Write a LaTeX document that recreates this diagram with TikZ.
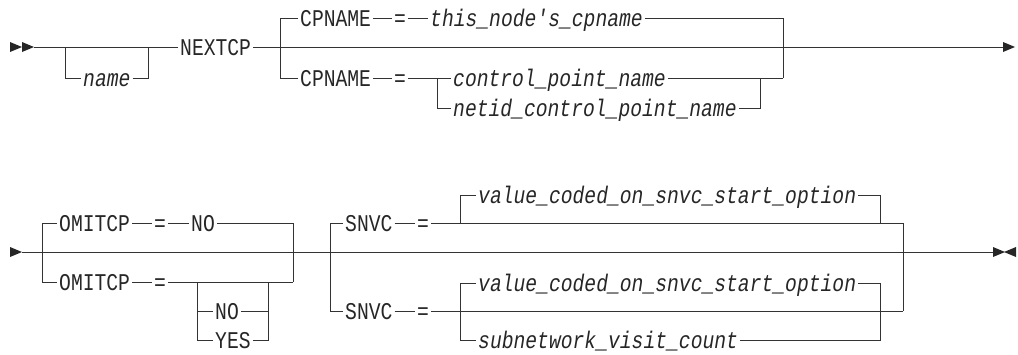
\documentclass[tikz,border=0pt]{standalone}
\usepackage{fontspec}
\usepackage{tikz}
\usetikzlibrary{positioning, arrows.meta}
\newfontfamily\railfont[FakeStretch=0.82, Ligatures=TeXOff]{Liberation Mono}

\begin{document}
\begin{tikzpicture}[
      x=1pt, y=-1pt,
      rail/.style={line width=1pt, draw=black!80},
      tip/.style={fill=black!85},
      kw/.style={font=\fontsize{24}{26}\railfont, text=black!85, inner sep=0pt,
          inner xsep=2pt, text height=17pt, text depth=0pt, anchor=west},
      var/.style={kw, font=\fontsize{24}{26}\railfont\itshape},
    ]
    \useasboundingbox (0,0) rectangle (1018,354);

    % Start and end marks
    \foreach \x/\y in {10/47, 22/47, 1003/47, 10/252, 993/252} {
        \fill[tip] (\x,\y-5) -- (\x+12,\y) -- (\x,\y+5) -- cycle;
      }
    \fill[tip] (1016,247) -- (1004,252) -- (1016,257) -- cycle;

    % ---- First line ----
    \node[kw] (nextcp) at (178,47) {NEXTCP};
    \node[var] (name) at (81,78) {name};
    \node[kw] (cpA) at (298,18) {CPNAME};
    \node[kw] (eqA) at (392,18) {=};
    \node[var] (self) at (428,18) {this\_node's\_cpname};
    \node[kw] (cpB) at (298,78) {CPNAME};
    \node[kw] (eqB) at (392,78) {=};
    \node[var] (cpn) at (451,78) {control\_point\_name};
    \node[var] (netcpn) at (451,108) {netid\_control\_point\_name};

    \coordinate (a0) at (34,47);
    \coordinate (aE) at (1003,47);
    \coordinate (n1) at (65,47);   \coordinate (n1b) at (65,78);
    \coordinate (n2) at (148,47);  \coordinate (n2b) at (148,78);
    \coordinate (c1t) at (280,18); \coordinate (c1b) at (280,78);
    \coordinate (c2t) at (783,18); \coordinate (c2b) at (783,78);
    \coordinate (s1) at (437,78);  \coordinate (s1b) at (437,108);
    \coordinate (j1) at (760,78);  \coordinate (j1b) at (760,108);

    % Optional name
    \draw[rail] (a0) -- (nextcp.west);
    \draw[rail] (n1) -- (n1b) -- (name.west);
    \draw[rail] (name.east) -- (n2b) -- (n2);
    \draw[rail] (nextcp.east) -- (aE);

    % CPNAME choices
    \draw[rail] (c1b) -- (c1t) -- (cpA.west);
    \draw[rail] (c1b) -- (cpB.west);
    \draw[rail] (cpA.east) -- (eqA.west);
    \draw[rail] (eqA.east) -- (self.west);
    \draw[rail] (self.east) -- (c2t) -- (c2b);
    \draw[rail] (cpB.east) -- (eqB.west);
    \draw[rail] (eqB.east) -- (cpn.west);
    \draw[rail] (s1) -- (s1b) -- (netcpn.west);
    \draw[rail] (netcpn.east) -- (j1b) -- (j1);
    \draw[rail] (cpn.east) -- (c2b);

    % ---- Second line ----
    \node[kw] (omitA) at (57,223) {OMITCP};
    \node[kw] (eqC) at (152,223) {=};
    \node[kw] (noA) at (189,223) {NO};
    \node[kw] (omitB) at (57,282) {OMITCP};
    \node[kw] (eqD) at (152,282) {=};
    \node[kw] (noB) at (213,311) {NO};
    \node[kw] (yes) at (213,340) {YES};
    \node[kw] (snvcA) at (343,223) {SNVC};
    \node[kw] (eqE) at (415,223) {=};
    \node[var] (defA) at (476,195) {value\_coded\_on\_snvc\_start\_option};
    \node[kw] (snvcB) at (343,311) {SNVC};
    \node[kw] (eqF) at (415,311) {=};
    \node[var] (defB) at (476,283) {value\_coded\_on\_snvc\_start\_option};
    \node[var] (visit) at (476,340) {subnetwork\_visit\_count};

    \coordinate (b0) at (22,252);
    \coordinate (bE) at (993,252);
    \coordinate (o1t) at (42,223);  \coordinate (o1b) at (42,282);
    \coordinate (o2t) at (293,223); \coordinate (o2b) at (293,282);
    \coordinate (t1) at (197,282);  \coordinate (t1m) at (197,311); \coordinate (t1b) at (197,340);
    \coordinate (t2) at (268,282);  \coordinate (t2m) at (268,311); \coordinate (t2b) at (268,340);
    \coordinate (p1t) at (330,223); \coordinate (p1b) at (330,311);
    \coordinate (p2t) at (903,223); \coordinate (p2b) at (903,311);
    \coordinate (q1) at (460,223);  \coordinate (q1t) at (460,195);
    \coordinate (q2) at (880,223);  \coordinate (q2t) at (880,195);
    \coordinate (r1t) at (460,283); \coordinate (r1b) at (460,340);
    \coordinate (r2t) at (880,283); \coordinate (r2b) at (880,340);

    \draw[rail] (b0) -- (bE);

    % OMITCP choices
    \draw[rail] (o1b) -- (o1t) -- (omitA.west);
    \draw[rail] (o1b) -- (omitB.west);
    \draw[rail] (omitA.east) -- (eqC.west);
    \draw[rail] (eqC.east) -- (noA.west);
    \draw[rail] (noA.east) -- (o2t) -- (o2b);
    \draw[rail] (omitB.east) -- (eqD.west);
    \draw[rail] (eqD.east) -- (o2b);
    \draw[rail] (t1) -- (t1b) -- (yes.west);
    \draw[rail] (t1m) -- (noB.west);
    \draw[rail] (noB.east) -- (t2m);
    \draw[rail] (yes.east) -- (t2b) -- (t2);

    % SNVC choices
    \draw[rail] (p1b) -- (p1t) -- (snvcA.west);
    \draw[rail] (p1b) -- (snvcB.west);
    \draw[rail] (snvcA.east) -- (eqE.west);
    \draw[rail] (eqE.east) -- (p2t) -- (p2b);
    \draw[rail] (q1) -- (q1t) -- (defA.west);
    \draw[rail] (defA.east) -- (q2t) -- (q2);
    \draw[rail] (snvcB.east) -- (eqF.west);
    \draw[rail] (eqF.east) -- (p2b);
    \draw[rail] (r1t) -- (r1b) -- (visit.west);
    \draw[rail] (r1t) -- (defB.west);
    \draw[rail] (defB.east) -- (r2t) -- (r2b) -- (visit.east);
  \end{tikzpicture}
\end{document}
